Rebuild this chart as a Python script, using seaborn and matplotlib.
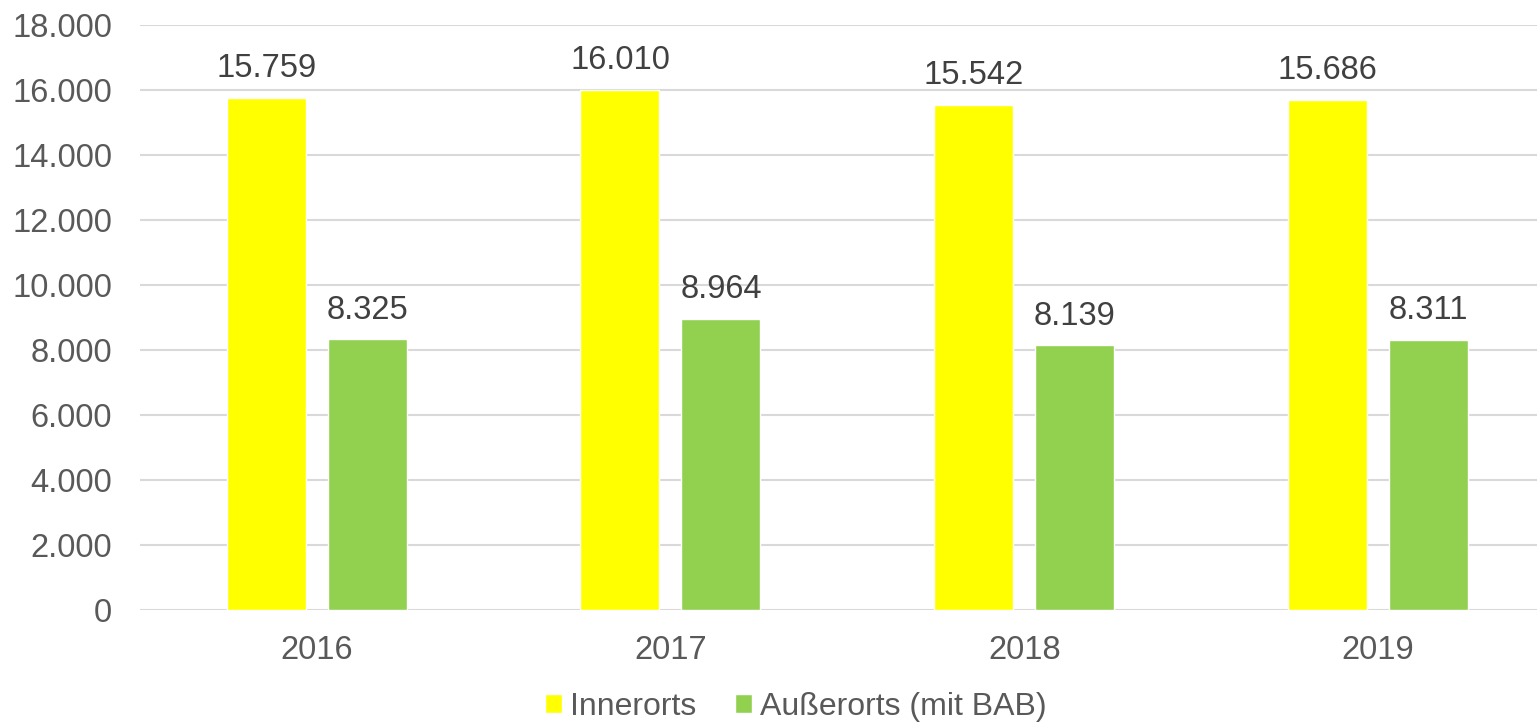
import pandas as pd
import seaborn as sns
import matplotlib.pyplot as plt
from matplotlib.ticker import FuncFormatter

# data
years = ["2016", "2017", "2018", "2019"]
innerorts = [15759, 16010, 15542, 15686]
ausserorts = [8325, 8964, 8139, 8311]
series = ["Innerorts", "Außerorts (mit BAB)"]
colors = ["#ffff00", "#92d050"]

df = pd.DataFrame({
    "Jahr": years * 2,
    "Wert": innerorts + ausserorts,
    "Reihe": [series[0]] * 4 + [series[1]] * 4,
})

sns.set_style("white")
plt.rcParams["font.family"] = ["Liberation Sans", "DejaVu Sans"]

fig = plt.figure(figsize=(15.37, 7.25), dpi=100)
ax = fig.add_axes([0.091, 0.1586, 0.9206, 0.807])

sns.barplot(data=df, x="Jahr", y="Wert", hue="Reihe", palette=colors,
            saturation=1, width=0.571, gap=0.218, ax=ax, legend=True)

def de_fmt(v, pos=None):
    return f"{int(round(v)):,}".replace(",", ".")

for cont in ax.containers:
    ax.bar_label(cont, labels=[de_fmt(b.get_height()) for b in cont],
                 padding=10, fontsize=23.5, color="#404040")

ax.set_ylim(0, 18000)
ax.set_yticks(range(0, 18001, 2000))
ax.yaxis.set_major_formatter(FuncFormatter(de_fmt))
ax.set_xlim(-0.5, 3.5)
ax.grid(axis="y", color="#d9d9d9", linewidth=1.5)
ax.set_axisbelow(True)
for s in ax.spines.values():
    s.set_visible(False)
ax.tick_params(axis="both", length=0, labelsize=23.5, colors="#595959")
ax.tick_params(axis="y", pad=20)
ax.tick_params(axis="x", pad=18)
ax.set_xlabel("")
ax.set_ylabel("")

ax.legend(loc="center", bbox_to_anchor=(0.4636, -0.166), ncol=2,
          frameon=False, fontsize=23, handlelength=0.55, handleheight=0.55,
          handletextpad=0.25, columnspacing=1.2, labelcolor="#595959")

fig.savefig("out.png", dpi=100)
